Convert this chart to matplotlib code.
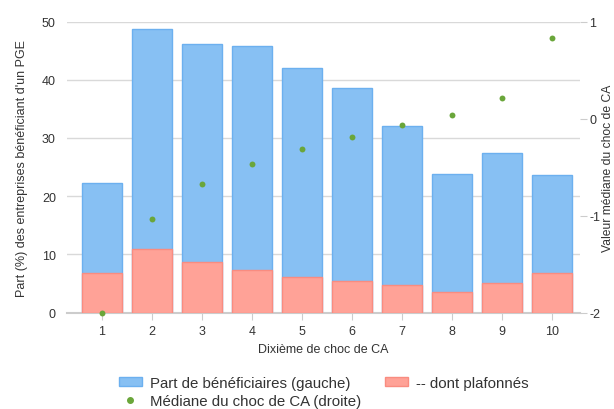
import matplotlib
matplotlib.use("Agg")
import matplotlib.pyplot as plt
from matplotlib.patches import Patch
from matplotlib.lines import Line2D

plt.rcParams["font.family"] = ["Liberation Sans", "DejaVu Sans"]
plt.rcParams["axes.unicode_minus"] = False

deciles = [1, 2, 3, 4, 5, 6, 7, 8, 9, 10]
part_benef = [22.2, 48.8, 46.1, 45.8, 42.0, 38.6, 32.0, 23.9, 27.5, 23.6]
part_plafonnes = [6.8, 11.0, 8.7, 7.25, 6.2, 5.5, 4.8, 3.6, 5.1, 6.8]
mediane_choc = [-2.0, -1.03, -0.67, -0.47, -0.315, -0.19, -0.07, 0.036, 0.21, 0.83]

BLUE = "#87c0f3"
BLUE_EDGE = "#6cb0ef"
RED = "#ffa297"
RED_EDGE = "#f98c80"
GREEN = "#6aa63a"
TEXT = "#333333"
GRID = "#d9d9d9"

fig = plt.figure(figsize=(6.14, 4.10), dpi=100)
ax = fig.add_axes([0.109, 0.235, 0.836, 0.710])
ax2 = ax.twinx()

ax.bar(deciles, part_benef, width=0.8, color=BLUE, edgecolor=BLUE_EDGE, linewidth=1, zorder=2)
ax.bar(deciles, part_plafonnes, width=0.8, color=RED, edgecolor=RED_EDGE, linewidth=1, zorder=3)
ax2.scatter(deciles, mediane_choc, s=18, color=GREEN, zorder=4, linewidths=0, clip_on=False)

ax.set_ylim(0, 50)
ax2.set_ylim(-2, 1)
ax.set_xlim(0.3, 10.56)
ax.set_yticks([0, 10, 20, 30, 40, 50])
ax2.set_yticks([-2, -1, 0, 1])
ax.set_xticks(deciles)

ax.grid(axis="y", color=GRID, linewidth=1, zorder=0)
ax.set_axisbelow(True)
for a in (ax, ax2):
    for s in a.spines.values():
        s.set_visible(False)
ax.spines["bottom"].set_visible(True)
ax.spines["bottom"].set_color("#cccccc")
ax.spines["bottom"].set_linewidth(1.5)

ax.tick_params(axis="y", length=0, labelsize=9, labelcolor=TEXT, pad=8)
ax.tick_params(axis="x", length=5, color="#cccccc", labelsize=9, labelcolor=TEXT, pad=4)
ax2.tick_params(axis="y", length=5, color="#cccccc", labelsize=9, labelcolor=TEXT, pad=1.5)

ax.set_xlabel("Dixième de choc de CA", fontsize=9, color=TEXT, labelpad=4)
ax.set_ylabel("Part (%) des entreprises bénéficiant d'un PGE", fontsize=9, color=TEXT, labelpad=10)
ax2.set_ylabel("Valeur médiane du choc de CA", fontsize=8.7, color=TEXT)
ax2.yaxis.set_label_coords(1.043, 0.5)

handles = [
    Patch(facecolor=BLUE, edgecolor=BLUE_EDGE, label="Part de bénéficiaires (gauche)"),
    Line2D([], [], marker="o", linestyle="none", markersize=4, color=GREEN,
           label="Médiane du choc de CA (droite)"),
    Patch(facecolor=RED, edgecolor=RED_EDGE, label="-- dont plafonnés"),
]
leg = fig.legend(handles=handles, loc="lower left", bbox_to_anchor=(0.172, -0.03), ncol=2,
                 frameon=False, fontsize=10.8, handlelength=1.5, handleheight=0.55,
                 columnspacing=1.6, labelspacing=0.25, handletextpad=0.55)
for t in leg.get_texts():
    t.set_color(TEXT)

fig.savefig("out.png", dpi=100)
